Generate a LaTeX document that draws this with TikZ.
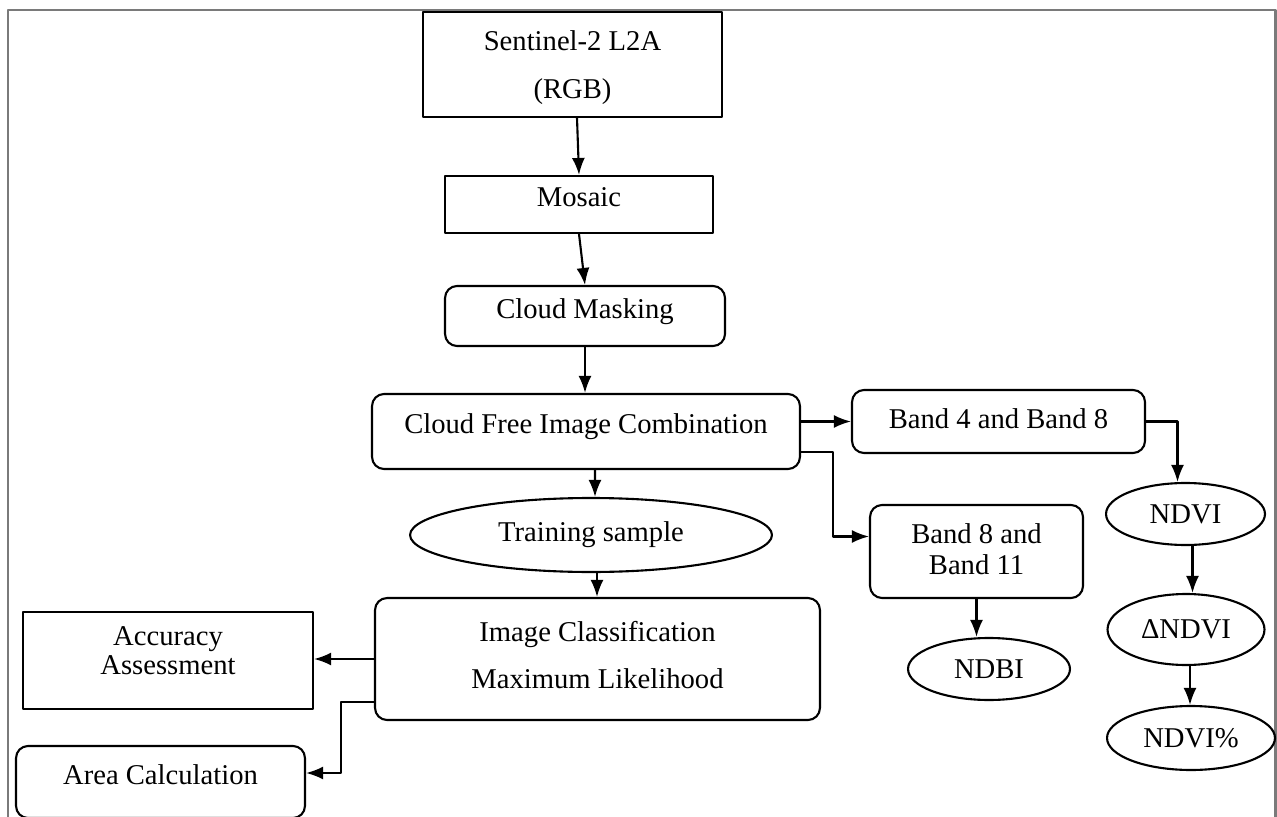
\documentclass[tikz,border=0pt]{standalone}
\usepackage{fontspec}
\setmainfont{Liberation Serif}
\usetikzlibrary{arrows.meta,shapes.geometric,calc}
\definecolor{FrameGray}{HTML}{7A7A7A}

\begin{document}
\begin{tikzpicture}[x=0.02cm,y=-0.02cm,line join=round,
    font=\fontsize{16.3}{18}\selectfont,
    sqbox/.style={draw,line width=1.2pt,align=center,inner sep=2pt},
    rbox/.style={sqbox,rounded corners=0.24cm},
    oval/.style={draw,ellipse,line width=1.2pt,inner sep=1pt},
    lift/.style={text depth=#1},
    arr/.style={-{Latex[length=3.4mm,width=2.6mm]},line width=1.2pt}]
  \useasboundingbox (0,0) rectangle (1277,817);
  \draw[FrameGray,line width=1.7pt] (8,830)--(8,10)--(1275,10)--(1275,830);
  % main column
  \node[sqbox,text depth=0pt,minimum width=5.98cm,minimum height=2.1cm] (sent) at (572.5,64.5) {Sentinel-2 L2A\\[9pt](RGB)};
  \node[sqbox,lift=0.3cm,minimum width=5.36cm,minimum height=1.14cm] (mos) at (579,204.5) {Mosaic};
  \node[rbox,lift=0.3cm,minimum width=5.6cm,minimum height=1.2cm] (mask) at (585,316) {Cloud Masking};
  \node[rbox,lift=0.32cm,minimum width=8.56cm,minimum height=1.5cm] (comb) at (586,431.5) {Cloud Free Image Combination};
  \node[oval,minimum width=7.24cm,minimum height=1.48cm] (train) at (591,535) {Training sample};
  \node[rbox,lift=0.16cm,minimum width=8.9cm,minimum height=2.44cm] (cls) at (597.5,659) {Image Classification\\[9pt]Maximum Likelihood};
  % left outputs
  \node[sqbox,lift=0.4cm,minimum width=5.8cm,minimum height=1.94cm] (acc) at (168,660.5) {Accuracy\\[-2pt]Assessment};
  \node[rbox,lift=0.3cm,minimum width=5.78cm,minimum height=1.44cm] (area) at (160.5,782) {Area Calculation};
  % indices
  \node[rbox,lift=0.1cm,minimum width=5.86cm,minimum height=1.26cm] (b48) at (998.5,421.5) {Band 4 and Band 8};
  \node[rbox,lift=0.1cm,minimum width=4.26cm,minimum height=1.86cm] (b811) at (976.5,551.5) {Band 8 and\\Band 11};
  \node[oval,minimum width=3.24cm,minimum height=1.24cm] (ndbi) at (989,669) {NDBI};
  \node[oval,minimum width=3.18cm,minimum height=1.24cm] (ndvi) at (1185.5,514) {NDVI};
  \node[oval,minimum width=3.14cm,minimum height=1.42cm] (dndvi) at (1186,629.5) {ΔNDVI};
  \node[oval,minimum width=3.36cm,minimum height=1.28cm] (ndvip) at (1191,738) {NDVI\%};
  % connectors
  \draw[arr] ([xshift=0.09cm]sent.south) -- (mos.north);
  \draw[arr] (mos.south) -- (mask.north);
  \draw[arr] (mask.south) -- (mask.south |- comb.north);
  \draw[arr] ([xshift=0.18cm]comb.south) -- ([xshift=0.08cm]train.north);
  \draw[arr] ([xshift=0.12cm]train.south) -- ([xshift=0.12cm]train.south |- cls.north);
  \draw[arr] (b48.west -| comb.east) -- (b48.west);
  \coordinate (cbend) at (833,452);
  \draw[arr] (cbend -| comb.east) -- (cbend) |- ([yshift=0.3cm]b811.west);
  \draw[arr] (b811.south) -- (b811.south |- ndbi.north);
  \draw[arr] (b48.east) -| ([xshift=-0.16cm]ndvi.north);
  \draw[arr] ([xshift=0.14cm]ndvi.south) -- ([xshift=0.14cm]ndvi.south |- dndvi.north);
  \draw[arr] ([xshift=0.08cm]dndvi.south) -- ([xshift=0.08cm]dndvi.south |- ndvip.north);
  \draw[arr] (cls.west) -- (cls.west -| acc.east);
  \coordinate (abend) at (341,702);
  \draw[arr] (abend -| cls.west) -- (abend) |- ([yshift=0.18cm]area.east);
\end{tikzpicture}
\end{document}
